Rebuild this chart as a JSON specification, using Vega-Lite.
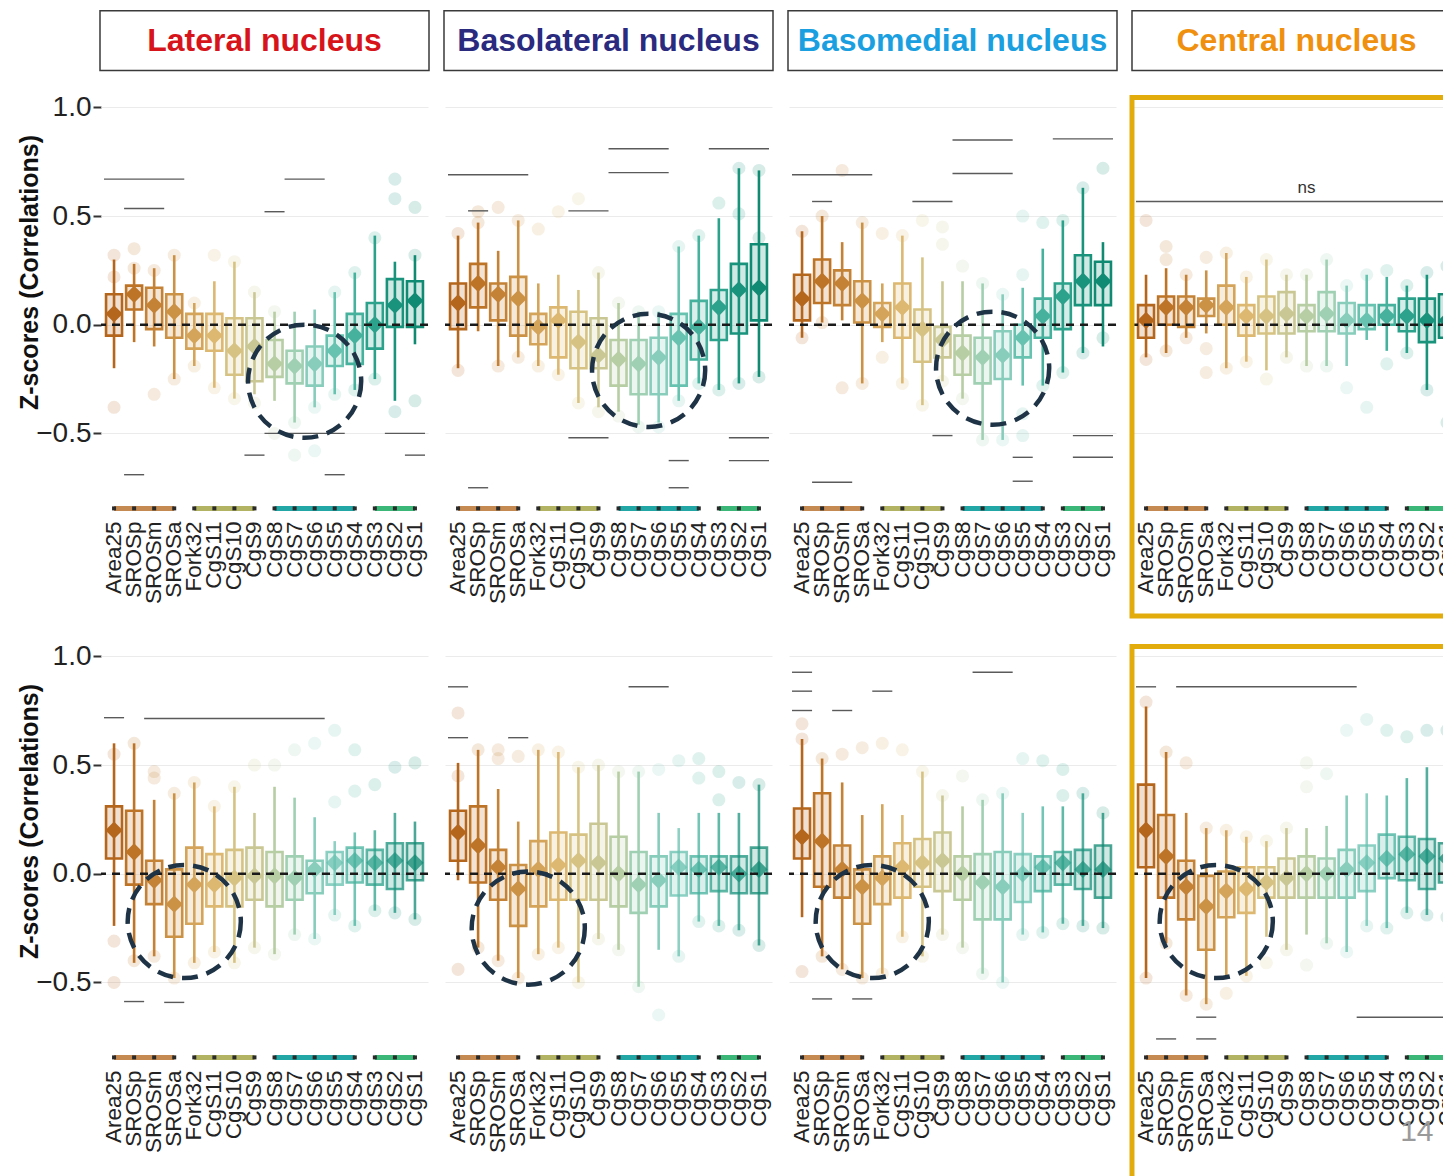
{
"$schema": "https://vega.github.io/schema/vega-lite/v6.json",
"background": "white",
"padding": {"left": 17, "top": 9, "right": 0, "bottom": 0},
"data": {"values": [
{"kind":"cell","row":"top","nuc":"L","label":"Lateral nucleus"},
{"kind":"cell","row":"top","nuc":"BL","label":"Basolateral nucleus"},
{"kind":"cell","row":"top","nuc":"BM","label":"Basomedial nucleus"},
{"kind":"cell","row":"top","nuc":"C","label":"Central nucleus"},
{"kind":"cell","row":"bottom","nuc":"L","label":"Lateral nucleus"},
{"kind":"cell","row":"bottom","nuc":"BL","label":"Basolateral nucleus"},
{"kind":"cell","row":"bottom","nuc":"BM","label":"Basomedial nucleus"},
{"kind":"cell","row":"bottom","nuc":"C","label":"Central nucleus"},

{"kind":"box","row":"top","nuc":"L","cat":"Area25","lo":-0.20,"q1":-0.05,"mean":0.05,"q3":0.14,"hi":0.30},
{"kind":"box","row":"top","nuc":"L","cat":"SROSp","lo":-0.08,"q1":0.07,"mean":0.14,"q3":0.18,"hi":0.28},
{"kind":"box","row":"top","nuc":"L","cat":"SROSm","lo":-0.10,"q1":-0.02,"mean":0.09,"q3":0.17,"hi":0.26},
{"kind":"box","row":"top","nuc":"L","cat":"SROSa","lo":-0.25,"q1":-0.06,"mean":0.06,"q3":0.14,"hi":0.32},
{"kind":"box","row":"top","nuc":"L","cat":"Fork32","lo":-0.19,"q1":-0.11,"mean":-0.05,"q3":0.05,"hi":0.10},
{"kind":"box","row":"top","nuc":"L","cat":"CgS11","lo":-0.29,"q1":-0.12,"mean":-0.05,"q3":0.05,"hi":0.20},
{"kind":"box","row":"top","nuc":"L","cat":"CgS10","lo":-0.34,"q1":-0.23,"mean":-0.12,"q3":0.03,"hi":0.29},
{"kind":"box","row":"top","nuc":"L","cat":"CgS9","lo":-0.32,"q1":-0.26,"mean":-0.10,"q3":0.03,"hi":0.15},
{"kind":"box","row":"top","nuc":"L","cat":"CgS8","lo":-0.35,"q1":-0.24,"mean":-0.18,"q3":-0.07,"hi":0.06},
{"kind":"box","row":"top","nuc":"L","cat":"CgS7","lo":-0.45,"q1":-0.27,"mean":-0.19,"q3":-0.12,"hi":0.06},
{"kind":"box","row":"top","nuc":"L","cat":"CgS6","lo":-0.38,"q1":-0.28,"mean":-0.18,"q3":-0.10,"hi":0.07},
{"kind":"box","row":"top","nuc":"L","cat":"CgS5","lo":-0.32,"q1":-0.19,"mean":-0.12,"q3":-0.05,"hi":0.15},
{"kind":"box","row":"top","nuc":"L","cat":"CgS4","lo":-0.30,"q1":-0.18,"mean":-0.05,"q3":0.05,"hi":0.24},
{"kind":"box","row":"top","nuc":"L","cat":"CgS3","lo":-0.25,"q1":-0.11,"mean":0.00,"q3":0.10,"hi":0.41},
{"kind":"box","row":"top","nuc":"L","cat":"CgS2","lo":-0.35,"q1":-0.01,"mean":0.09,"q3":0.21,"hi":0.29},
{"kind":"box","row":"top","nuc":"L","cat":"CgS1","lo":-0.09,"q1":-0.01,"mean":0.11,"q3":0.20,"hi":0.32},

{"kind":"box","row":"top","nuc":"BL","cat":"Area25","lo":-0.20,"q1":-0.02,"mean":0.10,"q3":0.19,"hi":0.41},
{"kind":"box","row":"top","nuc":"BL","cat":"SROSp","lo":-0.03,"q1":0.08,"mean":0.19,"q3":0.28,"hi":0.47},
{"kind":"box","row":"top","nuc":"BL","cat":"SROSm","lo":-0.19,"q1":0.02,"mean":0.14,"q3":0.19,"hi":0.34},
{"kind":"box","row":"top","nuc":"BL","cat":"SROSa","lo":-0.15,"q1":-0.05,"mean":0.12,"q3":0.22,"hi":0.48},
{"kind":"box","row":"top","nuc":"BL","cat":"Fork32","lo":-0.19,"q1":-0.09,"mean":-0.01,"q3":0.05,"hi":0.19},
{"kind":"box","row":"top","nuc":"BL","cat":"CgS11","lo":-0.23,"q1":-0.15,"mean":0.02,"q3":0.08,"hi":0.23},
{"kind":"box","row":"top","nuc":"BL","cat":"CgS10","lo":-0.36,"q1":-0.20,"mean":-0.08,"q3":0.06,"hi":0.16},
{"kind":"box","row":"top","nuc":"BL","cat":"CgS9","lo":-0.38,"q1":-0.20,"mean":-0.14,"q3":0.03,"hi":0.24},
{"kind":"box","row":"top","nuc":"BL","cat":"CgS8","lo":-0.40,"q1":-0.28,"mean":-0.16,"q3":-0.07,"hi":0.10},
{"kind":"box","row":"top","nuc":"BL","cat":"CgS7","lo":-0.46,"q1":-0.32,"mean":-0.18,"q3":-0.07,"hi":0.06},
{"kind":"box","row":"top","nuc":"BL","cat":"CgS6","lo":-0.45,"q1":-0.32,"mean":-0.15,"q3":-0.06,"hi":0.06},
{"kind":"box","row":"top","nuc":"BL","cat":"CgS5","lo":-0.35,"q1":-0.28,"mean":-0.06,"q3":0.05,"hi":0.36},
{"kind":"box","row":"top","nuc":"BL","cat":"CgS4","lo":-0.27,"q1":-0.16,"mean":-0.01,"q3":0.11,"hi":0.41},
{"kind":"box","row":"top","nuc":"BL","cat":"CgS3","lo":-0.30,"q1":-0.07,"mean":0.08,"q3":0.16,"hi":0.49},
{"kind":"box","row":"top","nuc":"BL","cat":"CgS2","lo":-0.27,"q1":-0.04,"mean":0.16,"q3":0.28,"hi":0.72},
{"kind":"box","row":"top","nuc":"BL","cat":"CgS1","lo":-0.24,"q1":0.02,"mean":0.17,"q3":0.37,"hi":0.71},

{"kind":"box","row":"top","nuc":"BM","cat":"Area25","lo":-0.06,"q1":0.02,"mean":0.12,"q3":0.23,"hi":0.43},
{"kind":"box","row":"top","nuc":"BM","cat":"SROSp","lo":0.01,"q1":0.10,"mean":0.20,"q3":0.30,"hi":0.50},
{"kind":"box","row":"top","nuc":"BM","cat":"SROSm","lo":0.02,"q1":0.09,"mean":0.19,"q3":0.25,"hi":0.38},
{"kind":"box","row":"top","nuc":"BM","cat":"SROSa","lo":-0.27,"q1":0.01,"mean":0.11,"q3":0.20,"hi":0.47},
{"kind":"box","row":"top","nuc":"BM","cat":"Fork32","lo":-0.08,"q1":-0.01,"mean":0.05,"q3":0.10,"hi":0.19},
{"kind":"box","row":"top","nuc":"BM","cat":"CgS11","lo":-0.27,"q1":-0.06,"mean":0.08,"q3":0.19,"hi":0.41},
{"kind":"box","row":"top","nuc":"BM","cat":"CgS10","lo":-0.37,"q1":-0.17,"mean":-0.02,"q3":0.07,"hi":0.31},
{"kind":"box","row":"top","nuc":"BM","cat":"CgS9","lo":-0.26,"q1":-0.15,"mean":-0.07,"q3":-0.01,"hi":0.20},
{"kind":"box","row":"top","nuc":"BM","cat":"CgS8","lo":-0.34,"q1":-0.23,"mean":-0.13,"q3":-0.05,"hi":0.20},
{"kind":"box","row":"top","nuc":"BM","cat":"CgS7","lo":-0.53,"q1":-0.27,"mean":-0.15,"q3":-0.06,"hi":0.19},
{"kind":"box","row":"top","nuc":"BM","cat":"CgS6","lo":-0.53,"q1":-0.25,"mean":-0.14,"q3":-0.03,"hi":0.14},
{"kind":"box","row":"top","nuc":"BM","cat":"CgS5","lo":-0.28,"q1":-0.15,"mean":-0.06,"q3":0.00,"hi":0.17},
{"kind":"box","row":"top","nuc":"BM","cat":"CgS4","lo":-0.28,"q1":-0.06,"mean":0.04,"q3":0.12,"hi":0.35},
{"kind":"box","row":"top","nuc":"BM","cat":"CgS3","lo":-0.22,"q1":-0.02,"mean":0.13,"q3":0.19,"hi":0.48},
{"kind":"box","row":"top","nuc":"BM","cat":"CgS2","lo":-0.13,"q1":0.09,"mean":0.20,"q3":0.32,"hi":0.63},
{"kind":"box","row":"top","nuc":"BM","cat":"CgS1","lo":-0.10,"q1":0.09,"mean":0.20,"q3":0.29,"hi":0.38},

{"kind":"box","row":"top","nuc":"C","cat":"Area25","lo":-0.15,"q1":-0.06,"mean":0.02,"q3":0.09,"hi":0.23},
{"kind":"box","row":"top","nuc":"C","cat":"SROSp","lo":-0.13,"q1":0.00,"mean":0.08,"q3":0.13,"hi":0.26},
{"kind":"box","row":"top","nuc":"C","cat":"SROSm","lo":-0.06,"q1":-0.01,"mean":0.08,"q3":0.13,"hi":0.23},
{"kind":"box","row":"top","nuc":"C","cat":"SROSa","lo":-0.04,"q1":0.04,"mean":0.09,"q3":0.12,"hi":0.25},
{"kind":"box","row":"top","nuc":"C","cat":"Fork32","lo":-0.20,"q1":0.00,"mean":0.08,"q3":0.18,"hi":0.33},
{"kind":"box","row":"top","nuc":"C","cat":"CgS11","lo":-0.17,"q1":-0.05,"mean":0.04,"q3":0.09,"hi":0.22},
{"kind":"box","row":"top","nuc":"C","cat":"CgS10","lo":-0.21,"q1":-0.04,"mean":0.04,"q3":0.13,"hi":0.30},
{"kind":"box","row":"top","nuc":"C","cat":"CgS9","lo":-0.15,"q1":-0.04,"mean":0.05,"q3":0.15,"hi":0.23},
{"kind":"box","row":"top","nuc":"C","cat":"CgS8","lo":-0.19,"q1":-0.03,"mean":0.04,"q3":0.09,"hi":0.23},
{"kind":"box","row":"top","nuc":"C","cat":"CgS7","lo":-0.19,"q1":-0.03,"mean":0.05,"q3":0.15,"hi":0.30},
{"kind":"box","row":"top","nuc":"C","cat":"CgS6","lo":-0.19,"q1":-0.04,"mean":0.02,"q3":0.10,"hi":0.18},
{"kind":"box","row":"top","nuc":"C","cat":"CgS5","lo":-0.07,"q1":-0.02,"mean":0.02,"q3":0.09,"hi":0.23},
{"kind":"box","row":"top","nuc":"C","cat":"CgS4","lo":-0.12,"q1":0.00,"mean":0.04,"q3":0.09,"hi":0.22},
{"kind":"box","row":"top","nuc":"C","cat":"CgS3","lo":-0.13,"q1":-0.03,"mean":0.04,"q3":0.12,"hi":0.18},
{"kind":"box","row":"top","nuc":"C","cat":"CgS2","lo":-0.30,"q1":-0.08,"mean":0.02,"q3":0.12,"hi":0.23},
{"kind":"box","row":"top","nuc":"C","cat":"CgS1","lo":-0.35,"q1":-0.06,"mean":0.02,"q3":0.14,"hi":0.27},

{"kind":"box","row":"bottom","nuc":"L","cat":"Area25","lo":-0.24,"q1":0.07,"mean":0.20,"q3":0.31,"hi":0.60},
{"kind":"box","row":"bottom","nuc":"L","cat":"SROSp","lo":-0.41,"q1":-0.05,"mean":0.10,"q3":0.29,"hi":0.60},
{"kind":"box","row":"bottom","nuc":"L","cat":"SROSm","lo":-0.38,"q1":-0.14,"mean":-0.03,"q3":0.06,"hi":0.34},
{"kind":"box","row":"bottom","nuc":"L","cat":"SROSa","lo":-0.48,"q1":-0.29,"mean":-0.14,"q3":0.02,"hi":0.37},
{"kind":"box","row":"bottom","nuc":"L","cat":"Fork32","lo":-0.41,"q1":-0.23,"mean":-0.05,"q3":0.12,"hi":0.42},
{"kind":"box","row":"bottom","nuc":"L","cat":"CgS11","lo":-0.36,"q1":-0.15,"mean":-0.05,"q3":0.09,"hi":0.31},
{"kind":"box","row":"bottom","nuc":"L","cat":"CgS10","lo":-0.41,"q1":-0.15,"mean":-0.02,"q3":0.11,"hi":0.40},
{"kind":"box","row":"bottom","nuc":"L","cat":"CgS9","lo":-0.34,"q1":-0.12,"mean":-0.01,"q3":0.12,"hi":0.28},
{"kind":"box","row":"bottom","nuc":"L","cat":"CgS8","lo":-0.37,"q1":-0.15,"mean":-0.01,"q3":0.10,"hi":0.40},
{"kind":"box","row":"bottom","nuc":"L","cat":"CgS7","lo":-0.28,"q1":-0.12,"mean":-0.02,"q3":0.08,"hi":0.35},
{"kind":"box","row":"bottom","nuc":"L","cat":"CgS6","lo":-0.30,"q1":-0.09,"mean":0.02,"q3":0.06,"hi":0.26},
{"kind":"box","row":"bottom","nuc":"L","cat":"CgS5","lo":-0.19,"q1":-0.05,"mean":0.05,"q3":0.10,"hi":0.15},
{"kind":"box","row":"bottom","nuc":"L","cat":"CgS4","lo":-0.24,"q1":-0.04,"mean":0.06,"q3":0.12,"hi":0.19},
{"kind":"box","row":"bottom","nuc":"L","cat":"CgS3","lo":-0.17,"q1":-0.05,"mean":0.05,"q3":0.11,"hi":0.20},
{"kind":"box","row":"bottom","nuc":"L","cat":"CgS2","lo":-0.18,"q1":-0.07,"mean":0.06,"q3":0.14,"hi":0.28},
{"kind":"box","row":"bottom","nuc":"L","cat":"CgS1","lo":-0.21,"q1":-0.03,"mean":0.05,"q3":0.14,"hi":0.24},

{"kind":"box","row":"bottom","nuc":"BL","cat":"Area25","lo":-0.03,"q1":0.06,"mean":0.19,"q3":0.29,"hi":0.51},
{"kind":"box","row":"bottom","nuc":"BL","cat":"SROSp","lo":-0.34,"q1":-0.04,"mean":0.13,"q3":0.31,"hi":0.57},
{"kind":"box","row":"bottom","nuc":"BL","cat":"SROSm","lo":-0.40,"q1":-0.12,"mean":0.03,"q3":0.11,"hi":0.39},
{"kind":"box","row":"bottom","nuc":"BL","cat":"SROSa","lo":-0.48,"q1":-0.24,"mean":-0.07,"q3":0.04,"hi":0.24},
{"kind":"box","row":"bottom","nuc":"BL","cat":"Fork32","lo":-0.37,"q1":-0.15,"mean":0.02,"q3":0.15,"hi":0.57},
{"kind":"box","row":"bottom","nuc":"BL","cat":"CgS11","lo":-0.34,"q1":-0.12,"mean":0.04,"q3":0.19,"hi":0.56},
{"kind":"box","row":"bottom","nuc":"BL","cat":"CgS10","lo":-0.50,"q1":-0.12,"mean":0.06,"q3":0.18,"hi":0.49},
{"kind":"box","row":"bottom","nuc":"BL","cat":"CgS9","lo":-0.30,"q1":-0.12,"mean":0.05,"q3":0.23,"hi":0.50},
{"kind":"box","row":"bottom","nuc":"BL","cat":"CgS8","lo":-0.35,"q1":-0.15,"mean":0.00,"q3":0.17,"hi":0.47},
{"kind":"box","row":"bottom","nuc":"BL","cat":"CgS7","lo":-0.52,"q1":-0.18,"mean":-0.05,"q3":0.10,"hi":0.47},
{"kind":"box","row":"bottom","nuc":"BL","cat":"CgS6","lo":-0.35,"q1":-0.15,"mean":-0.03,"q3":0.08,"hi":0.28},
{"kind":"box","row":"bottom","nuc":"BL","cat":"CgS5","lo":-0.38,"q1":-0.10,"mean":0.03,"q3":0.10,"hi":0.21},
{"kind":"box","row":"bottom","nuc":"BL","cat":"CgS4","lo":-0.22,"q1":-0.09,"mean":0.02,"q3":0.08,"hi":0.28},
{"kind":"box","row":"bottom","nuc":"BL","cat":"CgS3","lo":-0.24,"q1":-0.08,"mean":0.03,"q3":0.08,"hi":0.28},
{"kind":"box","row":"bottom","nuc":"BL","cat":"CgS2","lo":-0.26,"q1":-0.09,"mean":0.00,"q3":0.08,"hi":0.28},
{"kind":"box","row":"bottom","nuc":"BL","cat":"CgS1","lo":-0.33,"q1":-0.09,"mean":0.02,"q3":0.12,"hi":0.41},

{"kind":"box","row":"bottom","nuc":"BM","cat":"Area25","lo":-0.20,"q1":0.07,"mean":0.17,"q3":0.30,"hi":0.62},
{"kind":"box","row":"bottom","nuc":"BM","cat":"SROSp","lo":-0.38,"q1":-0.06,"mean":0.15,"q3":0.37,"hi":0.53},
{"kind":"box","row":"bottom","nuc":"BM","cat":"SROSm","lo":-0.44,"q1":-0.11,"mean":0.02,"q3":0.13,"hi":0.42},
{"kind":"box","row":"bottom","nuc":"BM","cat":"SROSa","lo":-0.48,"q1":-0.23,"mean":-0.06,"q3":0.02,"hi":0.27},
{"kind":"box","row":"bottom","nuc":"BM","cat":"Fork32","lo":-0.46,"q1":-0.14,"mean":-0.02,"q3":0.08,"hi":0.32},
{"kind":"box","row":"bottom","nuc":"BM","cat":"CgS11","lo":-0.29,"q1":-0.11,"mean":0.03,"q3":0.14,"hi":0.27},
{"kind":"box","row":"bottom","nuc":"BM","cat":"CgS10","lo":-0.38,"q1":-0.06,"mean":0.05,"q3":0.16,"hi":0.47},
{"kind":"box","row":"bottom","nuc":"BM","cat":"CgS9","lo":-0.28,"q1":-0.08,"mean":0.06,"q3":0.19,"hi":0.36},
{"kind":"box","row":"bottom","nuc":"BM","cat":"CgS8","lo":-0.34,"q1":-0.12,"mean":0.00,"q3":0.08,"hi":0.31},
{"kind":"box","row":"bottom","nuc":"BM","cat":"CgS7","lo":-0.46,"q1":-0.21,"mean":-0.04,"q3":0.09,"hi":0.34},
{"kind":"box","row":"bottom","nuc":"BM","cat":"CgS6","lo":-0.50,"q1":-0.21,"mean":-0.06,"q3":0.10,"hi":0.37},
{"kind":"box","row":"bottom","nuc":"BM","cat":"CgS5","lo":-0.28,"q1":-0.13,"mean":0.00,"q3":0.09,"hi":0.28},
{"kind":"box","row":"bottom","nuc":"BM","cat":"CgS4","lo":-0.27,"q1":-0.08,"mean":0.03,"q3":0.08,"hi":0.31},
{"kind":"box","row":"bottom","nuc":"BM","cat":"CgS3","lo":-0.23,"q1":-0.05,"mean":0.05,"q3":0.10,"hi":0.31},
{"kind":"box","row":"bottom","nuc":"BM","cat":"CgS2","lo":-0.24,"q1":-0.07,"mean":0.02,"q3":0.11,"hi":0.37},
{"kind":"box","row":"bottom","nuc":"BM","cat":"CgS1","lo":-0.25,"q1":-0.11,"mean":0.02,"q3":0.13,"hi":0.28},

{"kind":"box","row":"bottom","nuc":"C","cat":"Area25","lo":-0.48,"q1":0.03,"mean":0.20,"q3":0.41,"hi":0.77},
{"kind":"box","row":"bottom","nuc":"C","cat":"SROSp","lo":-0.32,"q1":-0.11,"mean":0.08,"q3":0.27,"hi":0.56},
{"kind":"box","row":"bottom","nuc":"C","cat":"SROSm","lo":-0.56,"q1":-0.21,"mean":-0.06,"q3":0.06,"hi":0.28},
{"kind":"box","row":"bottom","nuc":"C","cat":"SROSa","lo":-0.60,"q1":-0.35,"mean":-0.15,"q3":-0.01,"hi":0.21},
{"kind":"box","row":"bottom","nuc":"C","cat":"Fork32","lo":-0.47,"q1":-0.20,"mean":-0.08,"q3":0.01,"hi":0.20},
{"kind":"box","row":"bottom","nuc":"C","cat":"CgS11","lo":-0.47,"q1":-0.18,"mean":-0.07,"q3":0.03,"hi":0.17},
{"kind":"box","row":"bottom","nuc":"C","cat":"CgS10","lo":-0.29,"q1":-0.11,"mean":-0.04,"q3":0.03,"hi":0.15},
{"kind":"box","row":"bottom","nuc":"C","cat":"CgS9","lo":-0.35,"q1":-0.11,"mean":-0.02,"q3":0.07,"hi":0.21},
{"kind":"box","row":"bottom","nuc":"C","cat":"CgS8","lo":-0.28,"q1":-0.11,"mean":0.00,"q3":0.08,"hi":0.21},
{"kind":"box","row":"bottom","nuc":"C","cat":"CgS7","lo":-0.32,"q1":-0.11,"mean":0.00,"q3":0.07,"hi":0.22},
{"kind":"box","row":"bottom","nuc":"C","cat":"CgS6","lo":-0.36,"q1":-0.11,"mean":0.02,"q3":0.11,"hi":0.36},
{"kind":"box","row":"bottom","nuc":"C","cat":"CgS5","lo":-0.24,"q1":-0.08,"mean":0.05,"q3":0.13,"hi":0.37},
{"kind":"box","row":"bottom","nuc":"C","cat":"CgS4","lo":-0.25,"q1":-0.02,"mean":0.07,"q3":0.18,"hi":0.36},
{"kind":"box","row":"bottom","nuc":"C","cat":"CgS3","lo":-0.18,"q1":-0.03,"mean":0.09,"q3":0.17,"hi":0.44},
{"kind":"box","row":"bottom","nuc":"C","cat":"CgS2","lo":-0.19,"q1":-0.07,"mean":0.08,"q3":0.16,"hi":0.49},
{"kind":"box","row":"bottom","nuc":"C","cat":"CgS1","lo":-0.20,"q1":-0.04,"mean":0.07,"q3":0.14,"hi":0.40},

{"kind":"pt","row":"top","nuc":"L","cat":"Area25","v":0.32},{"kind":"pt","row":"top","nuc":"L","cat":"Area25","v":-0.38},{"kind":"pt","row":"top","nuc":"L","cat":"Area25","v":0.22},
{"kind":"pt","row":"top","nuc":"L","cat":"SROSp","v":0.35},{"kind":"pt","row":"top","nuc":"L","cat":"SROSp","v":0.26},
{"kind":"pt","row":"top","nuc":"L","cat":"SROSm","v":-0.32},{"kind":"pt","row":"top","nuc":"L","cat":"SROSm","v":0.25},
{"kind":"pt","row":"top","nuc":"L","cat":"SROSa","v":0.32},{"kind":"pt","row":"top","nuc":"L","cat":"SROSa","v":-0.25},
{"kind":"pt","row":"top","nuc":"L","cat":"Fork32","v":0.10},{"kind":"pt","row":"top","nuc":"L","cat":"Fork32","v":-0.19},
{"kind":"pt","row":"top","nuc":"L","cat":"CgS11","v":0.32},{"kind":"pt","row":"top","nuc":"L","cat":"CgS11","v":-0.29},
{"kind":"pt","row":"top","nuc":"L","cat":"CgS10","v":0.29},{"kind":"pt","row":"top","nuc":"L","cat":"CgS10","v":-0.34},
{"kind":"pt","row":"top","nuc":"L","cat":"CgS9","v":0.15},{"kind":"pt","row":"top","nuc":"L","cat":"CgS9","v":-0.36},
{"kind":"pt","row":"top","nuc":"L","cat":"CgS8","v":-0.50},{"kind":"pt","row":"top","nuc":"L","cat":"CgS8","v":0.06},
{"kind":"pt","row":"top","nuc":"L","cat":"CgS7","v":-0.60},{"kind":"pt","row":"top","nuc":"L","cat":"CgS7","v":-0.45},
{"kind":"pt","row":"top","nuc":"L","cat":"CgS6","v":-0.58},{"kind":"pt","row":"top","nuc":"L","cat":"CgS6","v":-0.38},
{"kind":"pt","row":"top","nuc":"L","cat":"CgS5","v":0.15},{"kind":"pt","row":"top","nuc":"L","cat":"CgS5","v":-0.32},
{"kind":"pt","row":"top","nuc":"L","cat":"CgS4","v":0.24},{"kind":"pt","row":"top","nuc":"L","cat":"CgS4","v":-0.30},
{"kind":"pt","row":"top","nuc":"L","cat":"CgS3","v":0.40},{"kind":"pt","row":"top","nuc":"L","cat":"CgS3","v":-0.25},
{"kind":"pt","row":"top","nuc":"L","cat":"CgS2","v":0.67},{"kind":"pt","row":"top","nuc":"L","cat":"CgS2","v":0.58},{"kind":"pt","row":"top","nuc":"L","cat":"CgS2","v":-0.40},
{"kind":"pt","row":"top","nuc":"L","cat":"CgS1","v":0.54},{"kind":"pt","row":"top","nuc":"L","cat":"CgS1","v":-0.35},{"kind":"pt","row":"top","nuc":"L","cat":"CgS1","v":0.32},

{"kind":"pt","row":"top","nuc":"BL","cat":"Area25","v":0.42},{"kind":"pt","row":"top","nuc":"BL","cat":"Area25","v":-0.21},
{"kind":"pt","row":"top","nuc":"BL","cat":"SROSp","v":0.52},{"kind":"pt","row":"top","nuc":"BL","cat":"SROSp","v":0.47},
{"kind":"pt","row":"top","nuc":"BL","cat":"SROSm","v":0.54},{"kind":"pt","row":"top","nuc":"BL","cat":"SROSm","v":-0.19},
{"kind":"pt","row":"top","nuc":"BL","cat":"SROSa","v":0.48},{"kind":"pt","row":"top","nuc":"BL","cat":"SROSa","v":-0.15},
{"kind":"pt","row":"top","nuc":"BL","cat":"Fork32","v":0.44},{"kind":"pt","row":"top","nuc":"BL","cat":"Fork32","v":-0.19},
{"kind":"pt","row":"top","nuc":"BL","cat":"CgS11","v":0.52},{"kind":"pt","row":"top","nuc":"BL","cat":"CgS11","v":-0.23},
{"kind":"pt","row":"top","nuc":"BL","cat":"CgS10","v":0.58},{"kind":"pt","row":"top","nuc":"BL","cat":"CgS10","v":-0.36},
{"kind":"pt","row":"top","nuc":"BL","cat":"CgS9","v":0.24},{"kind":"pt","row":"top","nuc":"BL","cat":"CgS9","v":-0.40},
{"kind":"pt","row":"top","nuc":"BL","cat":"CgS8","v":0.10},{"kind":"pt","row":"top","nuc":"BL","cat":"CgS8","v":-0.42},
{"kind":"pt","row":"top","nuc":"BL","cat":"CgS7","v":-0.47},{"kind":"pt","row":"top","nuc":"BL","cat":"CgS7","v":0.06},
{"kind":"pt","row":"top","nuc":"BL","cat":"CgS6","v":-0.47},{"kind":"pt","row":"top","nuc":"BL","cat":"CgS6","v":0.06},
{"kind":"pt","row":"top","nuc":"BL","cat":"CgS5","v":0.36},{"kind":"pt","row":"top","nuc":"BL","cat":"CgS5","v":-0.35},
{"kind":"pt","row":"top","nuc":"BL","cat":"CgS4","v":0.41},{"kind":"pt","row":"top","nuc":"BL","cat":"CgS4","v":-0.27},
{"kind":"pt","row":"top","nuc":"BL","cat":"CgS3","v":0.56},{"kind":"pt","row":"top","nuc":"BL","cat":"CgS3","v":-0.30},
{"kind":"pt","row":"top","nuc":"BL","cat":"CgS2","v":0.51},{"kind":"pt","row":"top","nuc":"BL","cat":"CgS2","v":0.72},{"kind":"pt","row":"top","nuc":"BL","cat":"CgS2","v":-0.27},
{"kind":"pt","row":"top","nuc":"BL","cat":"CgS1","v":0.40},{"kind":"pt","row":"top","nuc":"BL","cat":"CgS1","v":0.71},{"kind":"pt","row":"top","nuc":"BL","cat":"CgS1","v":-0.24},

{"kind":"pt","row":"top","nuc":"BM","cat":"Area25","v":0.43},{"kind":"pt","row":"top","nuc":"BM","cat":"Area25","v":-0.06},
{"kind":"pt","row":"top","nuc":"BM","cat":"SROSp","v":0.50},{"kind":"pt","row":"top","nuc":"BM","cat":"SROSp","v":0.01},
{"kind":"pt","row":"top","nuc":"BM","cat":"SROSm","v":0.71},{"kind":"pt","row":"top","nuc":"BM","cat":"SROSm","v":-0.29},
{"kind":"pt","row":"top","nuc":"BM","cat":"SROSa","v":0.47},{"kind":"pt","row":"top","nuc":"BM","cat":"SROSa","v":-0.27},
{"kind":"pt","row":"top","nuc":"BM","cat":"Fork32","v":0.42},{"kind":"pt","row":"top","nuc":"BM","cat":"Fork32","v":-0.15},
{"kind":"pt","row":"top","nuc":"BM","cat":"CgS11","v":0.41},{"kind":"pt","row":"top","nuc":"BM","cat":"CgS11","v":-0.27},
{"kind":"pt","row":"top","nuc":"BM","cat":"CgS10","v":0.48},{"kind":"pt","row":"top","nuc":"BM","cat":"CgS10","v":-0.37},
{"kind":"pt","row":"top","nuc":"BM","cat":"CgS9","v":0.45},{"kind":"pt","row":"top","nuc":"BM","cat":"CgS9","v":0.37},{"kind":"pt","row":"top","nuc":"BM","cat":"CgS9","v":-0.26},
{"kind":"pt","row":"top","nuc":"BM","cat":"CgS8","v":0.27},{"kind":"pt","row":"top","nuc":"BM","cat":"CgS8","v":-0.34},
{"kind":"pt","row":"top","nuc":"BM","cat":"CgS7","v":-0.53},{"kind":"pt","row":"top","nuc":"BM","cat":"CgS7","v":0.19},
{"kind":"pt","row":"top","nuc":"BM","cat":"CgS6","v":-0.53},{"kind":"pt","row":"top","nuc":"BM","cat":"CgS6","v":0.14},
{"kind":"pt","row":"top","nuc":"BM","cat":"CgS5","v":0.50},{"kind":"pt","row":"top","nuc":"BM","cat":"CgS5","v":0.23},{"kind":"pt","row":"top","nuc":"BM","cat":"CgS5","v":-0.41},{"kind":"pt","row":"top","nuc":"BM","cat":"CgS5","v":-0.51},
{"kind":"pt","row":"top","nuc":"BM","cat":"CgS4","v":0.47},{"kind":"pt","row":"top","nuc":"BM","cat":"CgS4","v":-0.28},
{"kind":"pt","row":"top","nuc":"BM","cat":"CgS3","v":0.48},{"kind":"pt","row":"top","nuc":"BM","cat":"CgS3","v":-0.22},
{"kind":"pt","row":"top","nuc":"BM","cat":"CgS2","v":0.63},{"kind":"pt","row":"top","nuc":"BM","cat":"CgS2","v":-0.13},
{"kind":"pt","row":"top","nuc":"BM","cat":"CgS1","v":0.72},{"kind":"pt","row":"top","nuc":"BM","cat":"CgS1","v":-0.06},

{"kind":"pt","row":"top","nuc":"C","cat":"Area25","v":0.48},{"kind":"pt","row":"top","nuc":"C","cat":"Area25","v":-0.16},
{"kind":"pt","row":"top","nuc":"C","cat":"SROSp","v":0.36},{"kind":"pt","row":"top","nuc":"C","cat":"SROSp","v":0.30},{"kind":"pt","row":"top","nuc":"C","cat":"SROSp","v":-0.12},
{"kind":"pt","row":"top","nuc":"C","cat":"SROSm","v":0.23},{"kind":"pt","row":"top","nuc":"C","cat":"SROSm","v":-0.06},
{"kind":"pt","row":"top","nuc":"C","cat":"SROSa","v":0.31},{"kind":"pt","row":"top","nuc":"C","cat":"SROSa","v":-0.11},{"kind":"pt","row":"top","nuc":"C","cat":"SROSa","v":-0.22},
{"kind":"pt","row":"top","nuc":"C","cat":"Fork32","v":0.33},{"kind":"pt","row":"top","nuc":"C","cat":"Fork32","v":-0.20},
{"kind":"pt","row":"top","nuc":"C","cat":"CgS11","v":0.22},{"kind":"pt","row":"top","nuc":"C","cat":"CgS11","v":-0.17},
{"kind":"pt","row":"top","nuc":"C","cat":"CgS10","v":0.30},{"kind":"pt","row":"top","nuc":"C","cat":"CgS10","v":-0.25},
{"kind":"pt","row":"top","nuc":"C","cat":"CgS9","v":0.23},{"kind":"pt","row":"top","nuc":"C","cat":"CgS9","v":-0.15},
{"kind":"pt","row":"top","nuc":"C","cat":"CgS8","v":0.23},{"kind":"pt","row":"top","nuc":"C","cat":"CgS8","v":-0.19},
{"kind":"pt","row":"top","nuc":"C","cat":"CgS7","v":0.30},{"kind":"pt","row":"top","nuc":"C","cat":"CgS7","v":-0.19},
{"kind":"pt","row":"top","nuc":"C","cat":"CgS6","v":0.18},{"kind":"pt","row":"top","nuc":"C","cat":"CgS6","v":-0.29},
{"kind":"pt","row":"top","nuc":"C","cat":"CgS5","v":0.23},{"kind":"pt","row":"top","nuc":"C","cat":"CgS5","v":-0.38},
{"kind":"pt","row":"top","nuc":"C","cat":"CgS4","v":0.25},{"kind":"pt","row":"top","nuc":"C","cat":"CgS4","v":-0.18},
{"kind":"pt","row":"top","nuc":"C","cat":"CgS3","v":0.18},{"kind":"pt","row":"top","nuc":"C","cat":"CgS3","v":-0.13},
{"kind":"pt","row":"top","nuc":"C","cat":"CgS2","v":0.24},{"kind":"pt","row":"top","nuc":"C","cat":"CgS2","v":-0.30},
{"kind":"pt","row":"top","nuc":"C","cat":"CgS1","v":-0.45},{"kind":"pt","row":"top","nuc":"C","cat":"CgS1","v":0.27},

{"kind":"pt","row":"bottom","nuc":"L","cat":"Area25","v":-0.31},{"kind":"pt","row":"bottom","nuc":"L","cat":"Area25","v":-0.50},{"kind":"pt","row":"bottom","nuc":"L","cat":"Area25","v":0.55},
{"kind":"pt","row":"bottom","nuc":"L","cat":"SROSp","v":0.60},{"kind":"pt","row":"bottom","nuc":"L","cat":"SROSp","v":-0.40},
{"kind":"pt","row":"bottom","nuc":"L","cat":"SROSm","v":0.47},{"kind":"pt","row":"bottom","nuc":"L","cat":"SROSm","v":0.44},{"kind":"pt","row":"bottom","nuc":"L","cat":"SROSm","v":-0.38},
{"kind":"pt","row":"bottom","nuc":"L","cat":"SROSa","v":0.37},{"kind":"pt","row":"bottom","nuc":"L","cat":"SROSa","v":-0.48},
{"kind":"pt","row":"bottom","nuc":"L","cat":"Fork32","v":0.42},{"kind":"pt","row":"bottom","nuc":"L","cat":"Fork32","v":-0.41},
{"kind":"pt","row":"bottom","nuc":"L","cat":"CgS11","v":0.31},{"kind":"pt","row":"bottom","nuc":"L","cat":"CgS11","v":-0.36},
{"kind":"pt","row":"bottom","nuc":"L","cat":"CgS10","v":0.40},{"kind":"pt","row":"bottom","nuc":"L","cat":"CgS10","v":-0.41},
{"kind":"pt","row":"bottom","nuc":"L","cat":"CgS9","v":0.50},{"kind":"pt","row":"bottom","nuc":"L","cat":"CgS9","v":-0.34},
{"kind":"pt","row":"bottom","nuc":"L","cat":"CgS8","v":0.50},{"kind":"pt","row":"bottom","nuc":"L","cat":"CgS8","v":-0.37},
{"kind":"pt","row":"bottom","nuc":"L","cat":"CgS7","v":0.57},{"kind":"pt","row":"bottom","nuc":"L","cat":"CgS7","v":-0.28},
{"kind":"pt","row":"bottom","nuc":"L","cat":"CgS6","v":0.60},{"kind":"pt","row":"bottom","nuc":"L","cat":"CgS6","v":-0.30},
{"kind":"pt","row":"bottom","nuc":"L","cat":"CgS5","v":0.66},{"kind":"pt","row":"bottom","nuc":"L","cat":"CgS5","v":0.33},{"kind":"pt","row":"bottom","nuc":"L","cat":"CgS5","v":-0.19},
{"kind":"pt","row":"bottom","nuc":"L","cat":"CgS4","v":0.57},{"kind":"pt","row":"bottom","nuc":"L","cat":"CgS4","v":0.38},{"kind":"pt","row":"bottom","nuc":"L","cat":"CgS4","v":-0.24},
{"kind":"pt","row":"bottom","nuc":"L","cat":"CgS3","v":0.41},{"kind":"pt","row":"bottom","nuc":"L","cat":"CgS3","v":-0.17},
{"kind":"pt","row":"bottom","nuc":"L","cat":"CgS2","v":0.49},{"kind":"pt","row":"bottom","nuc":"L","cat":"CgS2","v":-0.18},
{"kind":"pt","row":"bottom","nuc":"L","cat":"CgS1","v":0.51},{"kind":"pt","row":"bottom","nuc":"L","cat":"CgS1","v":-0.21},

{"kind":"pt","row":"bottom","nuc":"BL","cat":"Area25","v":0.74},{"kind":"pt","row":"bottom","nuc":"BL","cat":"Area25","v":-0.44},{"kind":"pt","row":"bottom","nuc":"BL","cat":"Area25","v":0.45},
{"kind":"pt","row":"bottom","nuc":"BL","cat":"SROSp","v":0.57},{"kind":"pt","row":"bottom","nuc":"BL","cat":"SROSp","v":-0.34},
{"kind":"pt","row":"bottom","nuc":"BL","cat":"SROSm","v":0.57},{"kind":"pt","row":"bottom","nuc":"BL","cat":"SROSm","v":0.53},{"kind":"pt","row":"bottom","nuc":"BL","cat":"SROSm","v":-0.40},
{"kind":"pt","row":"bottom","nuc":"BL","cat":"SROSa","v":0.54},{"kind":"pt","row":"bottom","nuc":"BL","cat":"SROSa","v":-0.48},
{"kind":"pt","row":"bottom","nuc":"BL","cat":"Fork32","v":0.57},{"kind":"pt","row":"bottom","nuc":"BL","cat":"Fork32","v":-0.37},
{"kind":"pt","row":"bottom","nuc":"BL","cat":"CgS11","v":0.56},{"kind":"pt","row":"bottom","nuc":"BL","cat":"CgS11","v":-0.34},
{"kind":"pt","row":"bottom","nuc":"BL","cat":"CgS10","v":0.49},{"kind":"pt","row":"bottom","nuc":"BL","cat":"CgS10","v":-0.50},
{"kind":"pt","row":"bottom","nuc":"BL","cat":"CgS9","v":0.50},{"kind":"pt","row":"bottom","nuc":"BL","cat":"CgS9","v":-0.30},
{"kind":"pt","row":"bottom","nuc":"BL","cat":"CgS8","v":0.47},{"kind":"pt","row":"bottom","nuc":"BL","cat":"CgS8","v":-0.35},
{"kind":"pt","row":"bottom","nuc":"BL","cat":"CgS7","v":0.47},{"kind":"pt","row":"bottom","nuc":"BL","cat":"CgS7","v":-0.52},
{"kind":"pt","row":"bottom","nuc":"BL","cat":"CgS6","v":0.48},{"kind":"pt","row":"bottom","nuc":"BL","cat":"CgS6","v":-0.65},
{"kind":"pt","row":"bottom","nuc":"BL","cat":"CgS5","v":0.52},{"kind":"pt","row":"bottom","nuc":"BL","cat":"CgS5","v":-0.38},
{"kind":"pt","row":"bottom","nuc":"BL","cat":"CgS4","v":0.53},{"kind":"pt","row":"bottom","nuc":"BL","cat":"CgS4","v":0.44},{"kind":"pt","row":"bottom","nuc":"BL","cat":"CgS4","v":-0.22},
{"kind":"pt","row":"bottom","nuc":"BL","cat":"CgS3","v":0.47},{"kind":"pt","row":"bottom","nuc":"BL","cat":"CgS3","v":0.34},{"kind":"pt","row":"bottom","nuc":"BL","cat":"CgS3","v":-0.24},
{"kind":"pt","row":"bottom","nuc":"BL","cat":"CgS2","v":0.42},{"kind":"pt","row":"bottom","nuc":"BL","cat":"CgS2","v":-0.26},
{"kind":"pt","row":"bottom","nuc":"BL","cat":"CgS1","v":0.41},{"kind":"pt","row":"bottom","nuc":"BL","cat":"CgS1","v":-0.33},

{"kind":"pt","row":"bottom","nuc":"BM","cat":"Area25","v":0.69},{"kind":"pt","row":"bottom","nuc":"BM","cat":"Area25","v":-0.45},{"kind":"pt","row":"bottom","nuc":"BM","cat":"Area25","v":0.62},
{"kind":"pt","row":"bottom","nuc":"BM","cat":"SROSp","v":0.53},{"kind":"pt","row":"bottom","nuc":"BM","cat":"SROSp","v":-0.38},
{"kind":"pt","row":"bottom","nuc":"BM","cat":"SROSm","v":0.55},{"kind":"pt","row":"bottom","nuc":"BM","cat":"SROSm","v":-0.44},
{"kind":"pt","row":"bottom","nuc":"BM","cat":"SROSa","v":0.58},{"kind":"pt","row":"bottom","nuc":"BM","cat":"SROSa","v":-0.48},
{"kind":"pt","row":"bottom","nuc":"BM","cat":"Fork32","v":0.60},{"kind":"pt","row":"bottom","nuc":"BM","cat":"Fork32","v":-0.46},
{"kind":"pt","row":"bottom","nuc":"BM","cat":"CgS11","v":0.57},{"kind":"pt","row":"bottom","nuc":"BM","cat":"CgS11","v":-0.29},
{"kind":"pt","row":"bottom","nuc":"BM","cat":"CgS10","v":0.47},{"kind":"pt","row":"bottom","nuc":"BM","cat":"CgS10","v":-0.38},
{"kind":"pt","row":"bottom","nuc":"BM","cat":"CgS9","v":0.36},{"kind":"pt","row":"bottom","nuc":"BM","cat":"CgS9","v":-0.28},
{"kind":"pt","row":"bottom","nuc":"BM","cat":"CgS8","v":0.45},{"kind":"pt","row":"bottom","nuc":"BM","cat":"CgS8","v":-0.34},
{"kind":"pt","row":"bottom","nuc":"BM","cat":"CgS7","v":0.34},{"kind":"pt","row":"bottom","nuc":"BM","cat":"CgS7","v":-0.46},
{"kind":"pt","row":"bottom","nuc":"BM","cat":"CgS6","v":0.37},{"kind":"pt","row":"bottom","nuc":"BM","cat":"CgS6","v":-0.50},
{"kind":"pt","row":"bottom","nuc":"BM","cat":"CgS5","v":0.53},{"kind":"pt","row":"bottom","nuc":"BM","cat":"CgS5","v":-0.28},
{"kind":"pt","row":"bottom","nuc":"BM","cat":"CgS4","v":0.52},{"kind":"pt","row":"bottom","nuc":"BM","cat":"CgS4","v":-0.27},
{"kind":"pt","row":"bottom","nuc":"BM","cat":"CgS3","v":0.48},{"kind":"pt","row":"bottom","nuc":"BM","cat":"CgS3","v":0.36},{"kind":"pt","row":"bottom","nuc":"BM","cat":"CgS3","v":-0.23},
{"kind":"pt","row":"bottom","nuc":"BM","cat":"CgS2","v":0.37},{"kind":"pt","row":"bottom","nuc":"BM","cat":"CgS2","v":-0.24},
{"kind":"pt","row":"bottom","nuc":"BM","cat":"CgS1","v":0.28},{"kind":"pt","row":"bottom","nuc":"BM","cat":"CgS1","v":-0.25},

{"kind":"pt","row":"bottom","nuc":"C","cat":"Area25","v":0.79},{"kind":"pt","row":"bottom","nuc":"C","cat":"Area25","v":-0.48},
{"kind":"pt","row":"bottom","nuc":"C","cat":"SROSp","v":0.56},{"kind":"pt","row":"bottom","nuc":"C","cat":"SROSp","v":-0.32},
{"kind":"pt","row":"bottom","nuc":"C","cat":"SROSm","v":0.51},{"kind":"pt","row":"bottom","nuc":"C","cat":"SROSm","v":-0.56},
{"kind":"pt","row":"bottom","nuc":"C","cat":"SROSa","v":0.21},{"kind":"pt","row":"bottom","nuc":"C","cat":"SROSa","v":-0.60},
{"kind":"pt","row":"bottom","nuc":"C","cat":"Fork32","v":-0.55},{"kind":"pt","row":"bottom","nuc":"C","cat":"Fork32","v":0.20},
{"kind":"pt","row":"bottom","nuc":"C","cat":"CgS11","v":0.17},{"kind":"pt","row":"bottom","nuc":"C","cat":"CgS11","v":-0.47},
{"kind":"pt","row":"bottom","nuc":"C","cat":"CgS10","v":-0.41},{"kind":"pt","row":"bottom","nuc":"C","cat":"CgS10","v":0.15},
{"kind":"pt","row":"bottom","nuc":"C","cat":"CgS9","v":0.21},{"kind":"pt","row":"bottom","nuc":"C","cat":"CgS9","v":-0.35},
{"kind":"pt","row":"bottom","nuc":"C","cat":"CgS8","v":0.51},{"kind":"pt","row":"bottom","nuc":"C","cat":"CgS8","v":0.40},{"kind":"pt","row":"bottom","nuc":"C","cat":"CgS8","v":-0.42},
{"kind":"pt","row":"bottom","nuc":"C","cat":"CgS7","v":0.46},{"kind":"pt","row":"bottom","nuc":"C","cat":"CgS7","v":-0.32},
{"kind":"pt","row":"bottom","nuc":"C","cat":"CgS6","v":0.66},{"kind":"pt","row":"bottom","nuc":"C","cat":"CgS6","v":-0.36},
{"kind":"pt","row":"bottom","nuc":"C","cat":"CgS5","v":0.71},{"kind":"pt","row":"bottom","nuc":"C","cat":"CgS5","v":-0.24},
{"kind":"pt","row":"bottom","nuc":"C","cat":"CgS4","v":0.66},{"kind":"pt","row":"bottom","nuc":"C","cat":"CgS4","v":-0.25},
{"kind":"pt","row":"bottom","nuc":"C","cat":"CgS3","v":0.63},{"kind":"pt","row":"bottom","nuc":"C","cat":"CgS3","v":-0.18},
{"kind":"pt","row":"bottom","nuc":"C","cat":"CgS2","v":0.66},{"kind":"pt","row":"bottom","nuc":"C","cat":"CgS2","v":-0.19},
{"kind":"pt","row":"bottom","nuc":"C","cat":"CgS1","v":0.66},{"kind":"pt","row":"bottom","nuc":"C","cat":"CgS1","v":-0.20},

{"kind":"sig","row":"top","nuc":"L","from":"Area25","to":"SROSa","y":0.67},
{"kind":"sig","row":"top","nuc":"L","from":"SROSp","to":"SROSm","y":0.535},
{"kind":"sig","row":"top","nuc":"L","from":"CgS8","to":"CgS8","y":0.52},
{"kind":"sig","row":"top","nuc":"L","from":"CgS7","to":"CgS6","y":0.67},
{"kind":"sig","row":"top","nuc":"L","from":"CgS8","to":"CgS5","y":-0.5},
{"kind":"sig","row":"top","nuc":"L","from":"CgS9","to":"CgS9","y":-0.6},
{"kind":"sig","row":"top","nuc":"L","from":"CgS1","to":"CgS1","y":-0.6},
{"kind":"sig","row":"top","nuc":"L","from":"SROSp","to":"SROSp","y":-0.69},
{"kind":"sig","row":"top","nuc":"L","from":"CgS5","to":"CgS5","y":-0.69},
{"kind":"sig","row":"top","nuc":"L","from":"CgS2","to":"CgS1","y":-0.5},

{"kind":"sig","row":"top","nuc":"BL","from":"Area25","to":"SROSa","y":0.69},
{"kind":"sig","row":"top","nuc":"BL","from":"SROSp","to":"SROSp","y":0.524},
{"kind":"sig","row":"top","nuc":"BL","from":"CgS10","to":"CgS9","y":0.524},
{"kind":"sig","row":"top","nuc":"BL","from":"CgS8","to":"CgS6","y":0.81},
{"kind":"sig","row":"top","nuc":"BL","from":"CgS8","to":"CgS6","y":0.70},
{"kind":"sig","row":"top","nuc":"BL","from":"CgS3","to":"CgS1","y":0.81},
{"kind":"sig","row":"top","nuc":"BL","from":"CgS10","to":"CgS9","y":-0.52},
{"kind":"sig","row":"top","nuc":"BL","from":"CgS5","to":"CgS5","y":-0.625},
{"kind":"sig","row":"top","nuc":"BL","from":"CgS5","to":"CgS5","y":-0.75},
{"kind":"sig","row":"top","nuc":"BL","from":"SROSp","to":"SROSp","y":-0.75},
{"kind":"sig","row":"top","nuc":"BL","from":"CgS2","to":"CgS1","y":-0.52},
{"kind":"sig","row":"top","nuc":"BL","from":"CgS2","to":"CgS1","y":-0.625},

{"kind":"sig","row":"top","nuc":"BM","from":"Area25","to":"SROSa","y":0.69},
{"kind":"sig","row":"top","nuc":"BM","from":"SROSp","to":"SROSp","y":0.567},
{"kind":"sig","row":"top","nuc":"BM","from":"CgS10","to":"CgS9","y":0.567},
{"kind":"sig","row":"top","nuc":"BM","from":"CgS8","to":"CgS6","y":0.85},
{"kind":"sig","row":"top","nuc":"BM","from":"CgS8","to":"CgS6","y":0.696},
{"kind":"sig","row":"top","nuc":"BM","from":"CgS3","to":"CgS1","y":0.855},
{"kind":"sig","row":"top","nuc":"BM","from":"CgS9","to":"CgS9","y":-0.51},
{"kind":"sig","row":"top","nuc":"BM","from":"CgS5","to":"CgS5","y":-0.61},
{"kind":"sig","row":"top","nuc":"BM","from":"CgS5","to":"CgS5","y":-0.72},
{"kind":"sig","row":"top","nuc":"BM","from":"SROSp","to":"SROSm","y":-0.725},
{"kind":"sig","row":"top","nuc":"BM","from":"CgS2","to":"CgS1","y":-0.51},
{"kind":"sig","row":"top","nuc":"BM","from":"CgS2","to":"CgS1","y":-0.61},

{"kind":"sig","row":"top","nuc":"C","from":"Area25","to":"CgS1","y":0.567},
{"kind":"ns","row":"top","nuc":"C","cat":"CgS8","y":0.59,"label":"ns"},

{"kind":"sig","row":"bottom","nuc":"L","from":"Area25","to":"Area25","y":0.718},
{"kind":"sig","row":"bottom","nuc":"L","from":"SROSm","to":"CgS6","y":0.714},
{"kind":"sig","row":"bottom","nuc":"L","from":"SROSp","to":"SROSp","y":-0.588},
{"kind":"sig","row":"bottom","nuc":"L","from":"SROSa","to":"SROSa","y":-0.592},

{"kind":"sig","row":"bottom","nuc":"BL","from":"Area25","to":"Area25","y":0.86},
{"kind":"sig","row":"bottom","nuc":"BL","from":"Area25","to":"Area25","y":0.626},
{"kind":"sig","row":"bottom","nuc":"BL","from":"SROSa","to":"SROSa","y":0.626},
{"kind":"sig","row":"bottom","nuc":"BL","from":"CgS7","to":"CgS6","y":0.86},

{"kind":"sig","row":"bottom","nuc":"BM","from":"Area25","to":"Area25","y":0.927},
{"kind":"sig","row":"bottom","nuc":"BM","from":"Area25","to":"Area25","y":0.84},
{"kind":"sig","row":"bottom","nuc":"BM","from":"Area25","to":"Area25","y":0.751},
{"kind":"sig","row":"bottom","nuc":"BM","from":"SROSm","to":"SROSm","y":0.751},
{"kind":"sig","row":"bottom","nuc":"BM","from":"Fork32","to":"Fork32","y":0.84},
{"kind":"sig","row":"bottom","nuc":"BM","from":"CgS7","to":"CgS6","y":0.927},
{"kind":"sig","row":"bottom","nuc":"BM","from":"SROSp","to":"SROSp","y":-0.576},
{"kind":"sig","row":"bottom","nuc":"BM","from":"SROSa","to":"SROSa","y":-0.576},

{"kind":"sig","row":"bottom","nuc":"C","from":"Area25","to":"Area25","y":0.86},
{"kind":"sig","row":"bottom","nuc":"C","from":"SROSm","to":"CgS6","y":0.86},
{"kind":"sig","row":"bottom","nuc":"C","from":"SROSa","to":"SROSa","y":-0.66},
{"kind":"sig","row":"bottom","nuc":"C","from":"SROSa","to":"SROSa","y":-0.76},
{"kind":"sig","row":"bottom","nuc":"C","from":"SROSp","to":"SROSp","y":-0.76},
{"kind":"sig","row":"bottom","nuc":"C","from":"CgS5","to":"CgS1","y":-0.66},

{"kind":"circ","row":"top","nuc":"L","cat":"CgS7","y":-0.26},
{"kind":"circ","row":"top","nuc":"BL","cat":"CgS7","y":-0.21},
{"kind":"circ","row":"top","nuc":"BM","cat":"CgS7","y":-0.2},
{"kind":"circ","row":"bottom","nuc":"L","cat":"SROSa","y":-0.22},
{"kind":"circ","row":"bottom","nuc":"BL","cat":"SROSa","y":-0.25},
{"kind":"circ","row":"bottom","nuc":"BM","cat":"SROSa","y":-0.22},
{"kind":"circ","row":"bottom","nuc":"C","cat":"SROSa","y":-0.22}
]},
"facet": {
  "row": {"field": "row", "type": "nominal", "sort": ["top", "bottom"], "title": null, "header": {"labels": false}},
  "column": {"field": "nuc", "type": "nominal", "sort": ["L", "BL", "BM", "C"], "title": null, "header": {"labels": false}}
},
"spacing": {"row": 123, "column": 17},
"bounds": "flush",
"resolve": {"axis": {"x": "independent"}},
"spec": {
  "width": 327,
  "height": 426,
  "layer": [
    {
      "transform": [{"filter": "datum.kind == 'pt'"}],
      "mark": {"type": "circle", "size": 170, "opacity": 0.17},
      "encoding": {
        "x": {"field": "cat", "type": "nominal", "title": null,
              "scale": {"domain": ["Area25","SROSp","SROSm","SROSa","Fork32","CgS11","CgS10","CgS9","CgS8","CgS7","CgS6","CgS5","CgS4","CgS3","CgS2","CgS1"], "paddingInner": 0, "paddingOuter": 0.15}},
        "y": {"field": "v", "type": "quantitative", "title": "Z-scores (Correlations)",
              "scale": {"domain": [-0.88, 1.08], "nice": false, "zero": false},
              "axis": {"values": [-0.5, 0, 0.5, 1], "format": ".1f"}},
        "color": {"field": "cat", "type": "nominal", "legend": null,
                  "scale": {"domain": ["Area25","SROSp","SROSm","SROSa","Fork32","CgS11","CgS10","CgS9","CgS8","CgS7","CgS6","CgS5","CgS4","CgS3","CgS2","CgS1"],
                            "range": ["#b5661d","#bd7427","#c48236","#cb9145","#d4a45a","#dcb870","#d6c383","#c9c793","#b7cda3","#a0d0b3","#88cdbc","#68c2b0","#46b19d","#2ca18b","#1a937d","#108a73"]}}
      }
    },
    {
      "transform": [{"filter": "datum.kind == 'sig'"}],
      "mark": {"type": "rule", "color": "#5a5a5a", "strokeWidth": 1.4},
      "encoding": {
        "x": {"field": "from", "type": "nominal", "bandPosition": 0, "title": null},
        "x2": {"field": "to", "bandPosition": 1},
        "y": {"field": "y", "type": "quantitative", "title": "Z-scores (Correlations)"}
      }
    },
    {
      "transform": [{"filter": "datum.kind == 'ns'"}],
      "mark": {"type": "text", "fontSize": 17, "color": "#333333", "baseline": "bottom", "font": "Liberation Sans"},
      "encoding": {
        "x": {"field": "cat", "type": "nominal", "title": null},
        "y": {"field": "y", "type": "quantitative", "title": "Z-scores (Correlations)"},
        "text": {"field": "label"}
      }
    },
    {
      "transform": [{"filter": "datum.kind == 'cell'"}],
      "mark": {"type": "rule", "color": "#c48a52", "strokeWidth": 5},
      "encoding": {"x": {"datum": "Area25", "type": "nominal", "title": null}, "x2": {"datum": "SROSa"}, "y": {"datum": -0.845, "type": "quantitative"}}
    },
    {
      "transform": [{"filter": "datum.kind == 'cell'"}],
      "mark": {"type": "rule", "color": "#b2b464", "strokeWidth": 5},
      "encoding": {"x": {"datum": "Fork32", "type": "nominal", "title": null}, "x2": {"datum": "CgS9"}, "y": {"datum": -0.845, "type": "quantitative"}}
    },
    {
      "transform": [{"filter": "datum.kind == 'cell'"}],
      "mark": {"type": "rule", "color": "#22a6a6", "strokeWidth": 5},
      "encoding": {"x": {"datum": "CgS8", "type": "nominal", "title": null}, "x2": {"datum": "CgS4"}, "y": {"datum": -0.845, "type": "quantitative"}}
    },
    {
      "transform": [{"filter": "datum.kind == 'cell'"}],
      "mark": {"type": "rule", "color": "#3bb878", "strokeWidth": 5},
      "encoding": {"x": {"datum": "CgS3", "type": "nominal", "title": null}, "x2": {"datum": "CgS1"}, "y": {"datum": -0.845, "type": "quantitative"}}
    },
    {
      "transform": [{"filter": "datum.kind == 'box'"}],
      "mark": {"type": "point", "shape": "square", "filled": true, "size": 16, "color": "#2a2a2a", "opacity": 1},
      "encoding": {"x": {"field": "cat", "type": "nominal", "title": null}, "y": {"datum": -0.845, "type": "quantitative"}}
    },
    {
      "transform": [{"filter": "datum.kind == 'box'"}],
      "mark": {"type": "rule", "strokeWidth": 2.6},
      "encoding": {
        "x": {"field": "cat", "type": "nominal", "title": null},
        "y": {"field": "lo", "type": "quantitative", "title": "Z-scores (Correlations)"},
        "y2": {"field": "hi"},
        "color": {"field": "cat", "type": "nominal", "legend": null},
        "opacity": {"condition": {"test": "datum.row == 'bottom' && indexof(['CgS5','CgS4','CgS3','CgS2','CgS1'], datum.cat) >= 0", "value": 0.75}, "value": 1}
      }
    },
    {
      "transform": [{"filter": "datum.kind == 'box'"}],
      "mark": {"type": "bar", "size": 16, "fillOpacity": 0.2, "strokeWidth": 2.6},
      "encoding": {
        "x": {"field": "cat", "type": "nominal", "title": null},
        "y": {"field": "q1", "type": "quantitative", "title": "Z-scores (Correlations)"},
        "y2": {"field": "q3"},
        "color": {"field": "cat", "type": "nominal", "legend": null},
        "stroke": {"field": "cat", "type": "nominal", "legend": null,
                   "scale": {"domain": ["Area25","SROSp","SROSm","SROSa","Fork32","CgS11","CgS10","CgS9","CgS8","CgS7","CgS6","CgS5","CgS4","CgS3","CgS2","CgS1"],
                             "range": ["#b5661d","#bd7427","#c48236","#cb9145","#d4a45a","#dcb870","#d6c383","#c9c793","#b7cda3","#a0d0b3","#88cdbc","#68c2b0","#46b19d","#2ca18b","#1a937d","#108a73"]}},
        "strokeOpacity": {"condition": {"test": "datum.row == 'bottom' && indexof(['CgS5','CgS4','CgS3','CgS2','CgS1'], datum.cat) >= 0", "value": 0.75}, "value": 1}
      }
    },
    {
      "transform": [{"filter": "datum.kind == 'box'"}],
      "mark": {"type": "point", "shape": "diamond", "filled": true, "size": 300},
      "encoding": {
        "x": {"field": "cat", "type": "nominal", "title": null},
        "y": {"field": "mean", "type": "quantitative", "title": "Z-scores (Correlations)"},
        "color": {"field": "cat", "type": "nominal", "legend": null},
        "opacity": {"condition": {"test": "datum.row == 'bottom' && indexof(['CgS5','CgS4','CgS3','CgS2','CgS1'], datum.cat) >= 0", "value": 0.75}, "value": 1}
      }
    },
    {
      "transform": [{"filter": "datum.kind == 'cell'"}],
      "mark": {"type": "rule", "color": "#1a1a1a", "strokeWidth": 2.4, "strokeDash": [8, 6]},
      "encoding": {"y": {"datum": 0, "type": "quantitative"}}
    },
    {
      "transform": [{"filter": "datum.kind == 'circ'"}],
      "mark": {"type": "point", "shape": "circle", "filled": false, "size": 12800, "color": "#1f3346", "strokeWidth": 4.5, "strokeDash": [16, 9], "opacity": 1},
      "encoding": {
        "x": {"field": "cat", "type": "nominal", "bandPosition": 1, "title": null},
        "y": {"field": "y", "type": "quantitative", "title": "Z-scores (Correlations)"}
      }
    },
    {
      "transform": [{"filter": "datum.kind == 'cell' && datum.row == 'top'"}],
      "mark": {"type": "rect", "fill": "white", "stroke": "#3a3a3a", "strokeWidth": 1.5},
      "encoding": {
        "x": {"datum": "Area25", "type": "nominal", "bandPosition": -0.2, "title": null},
        "x2": {"datum": "CgS1", "bandPosition": 1.2},
        "y": {"datum": 1.445, "type": "quantitative"},
        "y2": {"datum": 1.17}
      }
    },
    {
      "transform": [{"filter": "datum.kind == 'cell' && datum.row == 'top'"}],
      "mark": {"type": "text", "fontSize": 32, "fontWeight": "bold", "font": "Liberation Sans", "baseline": "middle", "align": "center"},
      "encoding": {
        "x": {"datum": "CgS9", "type": "nominal", "bandPosition": 1, "title": null},
        "y": {"datum": 1.305, "type": "quantitative"},
        "text": {"field": "label"},
        "color": {"condition": [
          {"test": "datum.nuc == 'L'", "value": "#d7141a"},
          {"test": "datum.nuc == 'BL'", "value": "#2a2a7f"},
          {"test": "datum.nuc == 'BM'", "value": "#1aa0e0"}], "value": "#f0900f"}
      }
    },
    {
      "transform": [{"filter": "datum.kind == 'cell' && datum.row == 'top' && datum.nuc == 'C'"}],
      "mark": {"type": "rect", "fill": "white", "fillOpacity": 0, "stroke": "#e2ac0c", "strokeWidth": 5},
      "encoding": {
        "x": {"datum": "Area25", "type": "nominal", "bandPosition": -0.2, "title": null},
        "x2": {"datum": "CgS1", "bandPosition": 1.5},
        "y": {"datum": 1.045, "type": "quantitative"},
        "y2": {"datum": -1.34}
      }
    },
    {
      "transform": [{"filter": "datum.kind == 'cell' && datum.row == 'bottom' && datum.nuc == 'C'"}],
      "mark": {"type": "rect", "fill": "white", "fillOpacity": 0, "stroke": "#e2ac0c", "strokeWidth": 5},
      "encoding": {
        "x": {"datum": "Area25", "type": "nominal", "bandPosition": -0.2, "title": null},
        "x2": {"datum": "CgS1", "bandPosition": 1.5},
        "y": {"datum": 1.045, "type": "quantitative"},
        "y2": {"datum": -1.7}
      }
    },
    {
      "transform": [{"filter": "datum.kind == 'cell' && datum.row == 'bottom' && datum.nuc == 'C'"}],
      "mark": {"type": "text", "fontSize": 30, "color": "#9a9a9a", "font": "Liberation Sans", "baseline": "middle", "align": "center"},
      "encoding": {
        "x": {"datum": "CgS3", "type": "nominal", "bandPosition": 1, "title": null},
        "y": {"datum": -1.19, "type": "quantitative"},
        "text": {"value": "14"}
      }
    }
  ]
},
"config": {
  "view": {"stroke": null},
  "font": "Liberation Sans",
  "header": {"labelPadding": 0, "titlePadding": 0},
  "axis": {"gridColor": "#ebebeb", "gridWidth": 1.2, "domain": false},
  "axisX": {"labelAngle": -90, "labelFontSize": 22.5, "labelColor": "#222222", "ticks": false, "labelPadding": 5, "labelOverlap": false, "labelFont": "Liberation Sans"},
  "axisY": {"labelFont": "Liberation Sans", "labelFontSize": 28, "labelColor": "#222222", "tickColor": "#333333", "tickSize": 8, "tickWidth": 2, "labelPadding": 2, "titleFontSize": 25, "titleFontWeight": "bold", "titleColor": "#111111", "titlePadding": -7, "titleFont": "Liberation Sans", "titleY": 182}
}
}
